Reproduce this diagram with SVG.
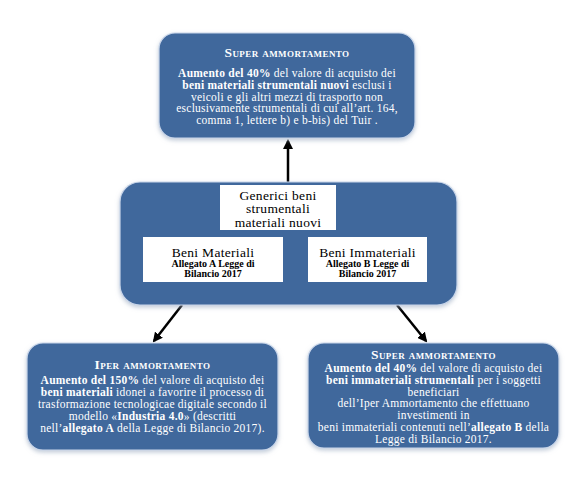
<svg xmlns="http://www.w3.org/2000/svg" width="586" height="485" viewBox="0 0 586 485">
<defs>
<filter id="sh" x="-10%" y="-10%" width="120%" height="125%">
<feGaussianBlur in="SourceAlpha" stdDeviation="2"/>
<feOffset dx="0" dy="2" result="b"/>
<feFlood flood-color="#9aaac0" flood-opacity="0.6"/>
<feComposite in2="b" operator="in"/>
<feMerge><feMergeNode/><feMergeNode in="SourceGraphic"/></feMerge>
</filter>
<marker id="ah" viewBox="0 0 10 10" refX="8" refY="5" markerWidth="4" markerHeight="4" orient="auto">
<path d="M0,0 L10,5 L0,10 z" fill="#000"/>
</marker>
</defs>
<style>
.box{fill:#41689c;stroke:#c9d6ea;stroke-width:1.2;filter:url(#sh)}
.wb{fill:#fff}
.t{font-family:"Liberation Serif","Times New Roman",serif;font-size:11.5px;letter-spacing:0.25px;fill:#fff;text-anchor:middle}
.ttl{font-family:"Liberation Serif","Times New Roman",serif;font-size:13.5px;letter-spacing:0.4px;font-weight:bold;font-variant:small-caps;fill:#fff;text-anchor:middle}
.b{font-weight:bold}
.m{font-family:"Liberation Serif","Times New Roman",serif;font-size:13.5px;letter-spacing:0.3px;fill:#000;text-anchor:middle}
.s{font-family:"Liberation Serif","Times New Roman",serif;font-size:10px;font-weight:bold;fill:#000;text-anchor:middle}
.c{stroke:#000;stroke-width:2.5;fill:none;marker-end:url(#ah)}
</style>
<rect width="586" height="485" fill="#fff"/>

<g id="connectors">
<line class="c" x1="288" y1="183" x2="288" y2="141"/>
<line class="c" x1="182" y1="305" x2="154" y2="341"/>
<line class="c" x1="397" y1="305" x2="426" y2="341"/>
</g>

<g id="top">
<rect class="box" x="159" y="33" width="256" height="105" rx="16"/>
<text class="ttl" x="287" y="57">Super ammortamento</text>
<text class="t" x="287" y="77"><tspan class="b">Aumento del 40%</tspan> del valore di acquisto dei</text>
<text class="t" x="287" y="89"><tspan class="b">beni materiali strumentali nuovi</tspan> esclusi i</text>
<text class="t" x="287" y="100.5">veicoli e gli altri mezzi di trasporto non</text>
<text class="t" x="287" y="112">esclusivamente strumentali di cui all’art. 164,</text>
<text class="t" x="287" y="123.5">comma 1, lettere b) e b-bis) del Tuir .</text>
</g>

<g id="middle">
<rect class="box" x="120" y="182" width="337" height="123" rx="20"/>
<rect class="wb" x="220" y="185" width="116" height="45"/>
<text class="m" x="278" y="199.5">Generici beni</text>
<text class="m" x="278" y="213">strumentali</text>
<text class="m" x="278" y="226.5">materiali nuovi</text>
</g>

<g id="materiali">
<rect class="wb" x="143" y="237" width="140" height="45"/>
<text class="m" x="213" y="256.5">Beni Materiali</text>
<text class="s" x="213" y="267">Allegato A  Legge di</text>
<text class="s" x="213" y="277">Bilancio 2017</text>
</g>

<g id="immateriali">
<rect class="wb" x="308" y="237" width="119" height="45"/>
<text class="m" x="367.5" y="256.5">Beni Immateriali</text>
<text class="s" x="367.5" y="267">Allegato B  Legge di</text>
<text class="s" x="367.5" y="277">Bilancio 2017</text>
</g>

<g id="iper">
<rect class="box" x="27" y="343" width="251" height="107" rx="16"/>
<text class="ttl" x="152.5" y="369">Iper ammortamento</text>
<text class="t" x="152.5" y="384"><tspan class="b">Aumento del 150%</tspan> del valore di acquisto dei</text>
<text class="t" x="152.5" y="396"><tspan class="b">beni materiali</tspan> idonei a favorire il processo di</text>
<text class="t" x="152.5" y="408">trasformazione tecnologicae  digitale secondo il</text>
<text class="t" x="152.5" y="420">modello «<tspan class="b">Industria 4.0</tspan>» (descritti</text>
<text class="t" x="152.5" y="432">nell’<tspan class="b">allegato A</tspan> della Legge di Bilancio 2017).</text>
</g>

<g id="super2">
<rect class="box" x="308" y="343" width="251" height="105" rx="16"/>
<text class="ttl" x="433.5" y="359">Super ammortamento</text>
<text class="t" x="433.5" y="372"><tspan class="b">Aumento del 40%</tspan> del valore di acquisto dei</text>
<text class="t" x="433.5" y="384"><tspan class="b">beni immateriali strumentali</tspan> per i soggetti</text>
<text class="t" x="433.5" y="396">beneficiari</text>
<text class="t" x="433.5" y="407">dell’Iper Ammortamento che effettuano</text>
<text class="t" x="433.5" y="419">investimenti in</text>
<text class="t" x="433.5" y="431">beni immateriali contenuti nell’<tspan class="b">allegato B</tspan> della</text>
<text class="t" x="433.5" y="443">Legge di Bilancio 2017.</text>
</g>
</svg>
